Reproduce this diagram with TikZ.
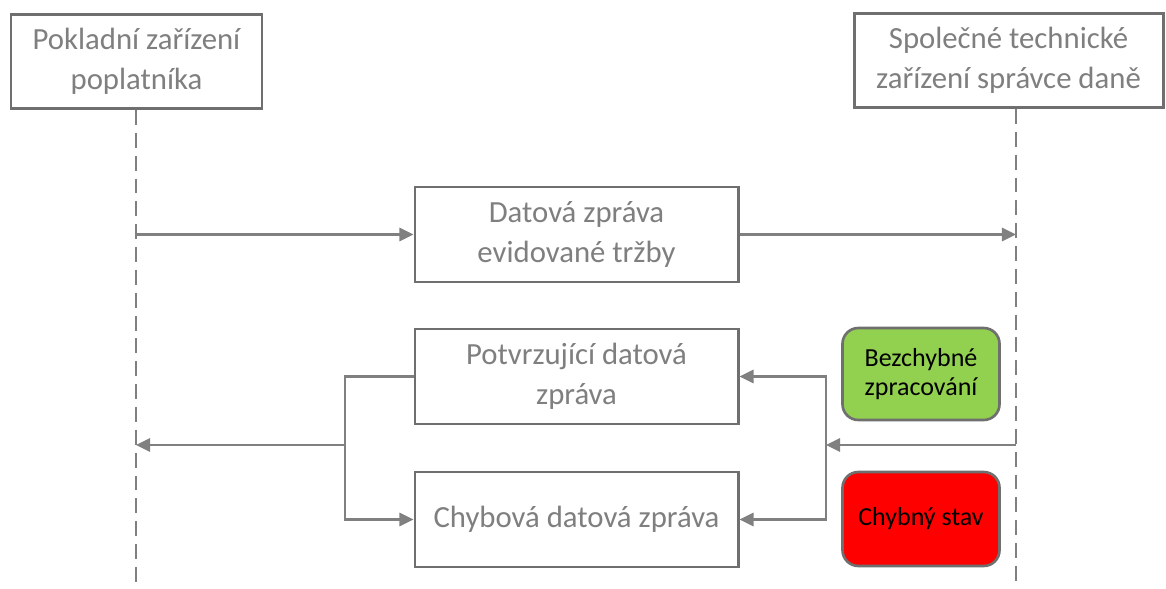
\documentclass[tikz,border=0pt]{standalone}
\usepackage{fontspec}
\setmainfont{Carlito}
\usepackage{xcolor}
\definecolor{TEXTCOLOR}{HTML}{7F7F7F}
\definecolor{LINECOLOR}{HTML}{808080}
\definecolor{BORDERCOLOR}{HTML}{6F6F6F}
\definecolor{OKCOLOR}{HTML}{92D050}
\definecolor{ERRCOLOR}{HTML}{FF0000}
\usetikzlibrary{arrows.meta,positioning,calc}
\tikzset{
  basic-style/.style = {
    rectangle, draw=BORDERCOLOR, line width=1.7pt,
    fill=white, text=TEXTCOLOR, align=center,
    font=\fontsize{17.5}{22.5}\selectfont,
    inner sep=1pt
  },
  actor-style/.style = {
    basic-style,
    minimum height=1.88cm
  },
  msg-style/.style = {
    basic-style,
    minimum width=6.46cm,
    minimum height=1.9cm
  },
  state-style/.style = {
    rectangle, rounded corners=9pt, draw=BORDERCOLOR, line width=1.5pt,
    fill=#1, text=black, align=center,
    font=\fontsize{14.8}{16.5}\selectfont,
    minimum width=3.14cm,
    inner sep=1pt
  },
  life-style/.style = {
    draw=LINECOLOR, line width=1.2pt, dash pattern=on 8.5pt off 4.5pt
  },
  every edge/.style = {draw=LINECOLOR, line width=1.3pt,
    -{Triangle[length=8pt,width=7.5pt]}}
}

\begin{document}
\begin{tikzpicture}
  \useasboundingbox (0,0) rectangle (23.32,-11.78);

  % ucastnici
  \node [actor-style, minimum width=5.02cm] (poklad) at (2.73,-1.23)
        {Pokladní zařízení\\poplatníka};
  \node [actor-style, minimum width=6.18cm] (spravce) at (20.17,-1.21)
        {Společné technické\\zařízení správce daně};
  \coordinate (poklad-end) at (2.72,-11.78);
  \coordinate (spravce-end) at (20.32,-11.78);
  \path[life-style] (poklad.south -| poklad-end) -- (poklad-end);
  \path[life-style] (spravce.south -| spravce-end) -- (spravce-end);

  % zpravy
  \node [msg-style] (zprava) at (11.53,-4.69) {Datová zpráva\\evidované tržby};
  \node [msg-style] (potvrz) at (11.53,-7.53) {Potvrzující datová\\zpráva};
  \node [msg-style] (chyba) at (11.53,-10.39) {Chybová datová zpráva};

  % stavy
  \node [state-style=OKCOLOR, minimum height=1.84cm] (ok) at (18.42,-7.48)
        {Bezchybné\\zpracování};
  \node [state-style=ERRCOLOR, minimum height=1.88cm] (err) at (18.42,-10.38)
        {Chybný stav};

  \coordinate (split) at (6.9,-8.9);
  \coordinate (join) at (16.52,-8.9);

  \path (zprava.west -| poklad-end) edge (zprava.west);
  \path (zprava.east) edge (zprava.east -| spravce-end);
  \path (join -| spravce-end) edge (join);
  \path (join) edge[to path={|- (\tikztotarget)}] (potvrz.east);
  \path (join) edge[to path={|- (\tikztotarget)}] (chyba.east);
  \draw[draw=LINECOLOR, line width=1.3pt] (potvrz.west) -| (split);
  \path (split) edge[to path={|- (\tikztotarget)}] (chyba.west);
  \path (split) edge (split -| poklad-end);
\end{tikzpicture}
\end{document}
